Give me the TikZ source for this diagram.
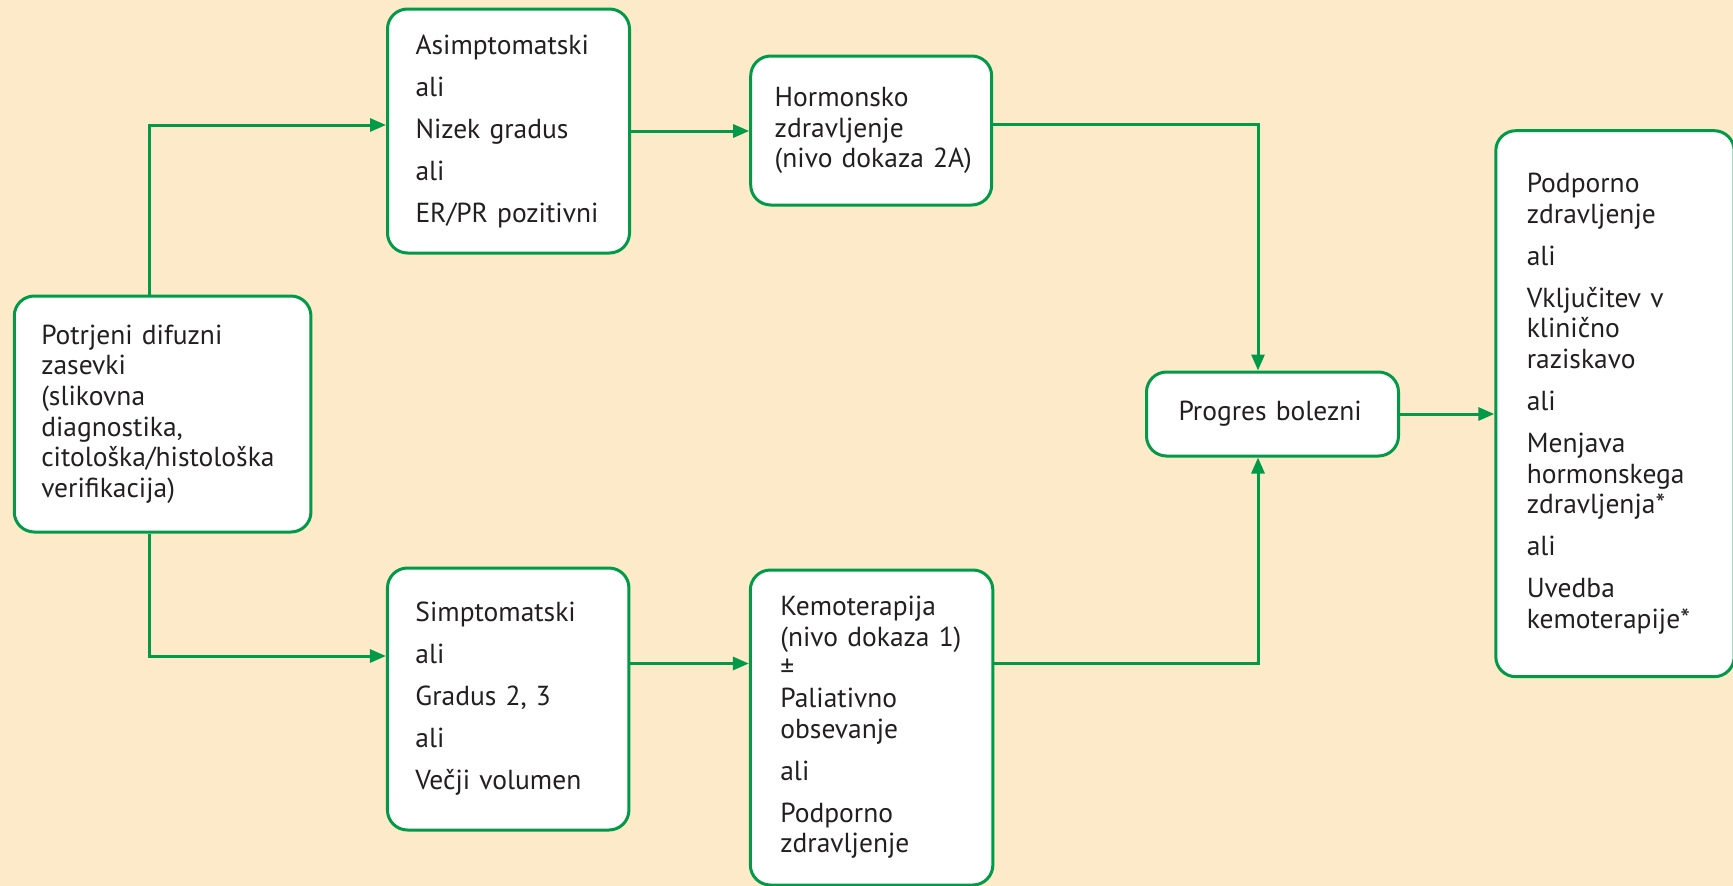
\documentclass[tikz,border=0pt]{standalone}
\usepackage{fontspec}
\setmainfont{PT Sans}
\usetikzlibrary{arrows.meta,calc}
\definecolor{bg}{HTML}{FDEAC8}
\definecolor{gr}{HTML}{009A49}
\definecolor{tx}{HTML}{231F20}
\begin{document}
\begin{tikzpicture}[x=1pt,y=-1pt,
  box/.style={draw=gr, line width=3pt, fill=white, rounded corners=20pt,
    align=left, inner ysep=0pt, text=tx, font=\fontsize{27.5}{30.6}\selectfont},
  arr/.style={draw=gr, line width=3pt, -{Triangle[length=16pt,width=13pt]}}]
\clip (0,0) rectangle (1733,886);
\fill[bg] (0,0) rectangle (1733,886);

\node[box, inner xsep=28pt, text width=186pt, minimum height=244pt] (A) at (508.5,131)
  {Asimptomatski\\[11.4pt]ali\\[11.4pt]Nizek gradus\\[11.4pt]ali\\[11.4pt]ER/PR pozitivni};
\node[box, inner xsep=24pt, text width=193pt, minimum height=149pt] (H) at (871.2,130.5)
  {Hormonsko\\zdravljenje\\(nivo~dokaza~2A)};
\node[box, inner xsep=27pt, text width=242.7pt, minimum height=236pt] (P) at (162.6,414)
  {Potrjeni difuzni\\zasevki\\(slikovna\\diagnostika,\\citološka/histološka\\verifikacija)};
\node[box, inner xsep=28pt, text width=185.5pt, minimum height=262pt] (S) at (508.2,699)
  {Simptomatski\\[11.4pt]ali\\[11.4pt]Gradus 2, 3\\[11.4pt]ali\\[11.4pt]Večji volumen};
\node[box, inner xsep=30pt, text width=182.5pt, minimum height=315pt] (K) at (871.6,727.5)
  {Kemoterapija\\(nivo~dokaza~1)\\±\\Paliativno\\obsevanje\\[11.4pt]ali\\[11.4pt]Podporno\\zdravljenje};
\node[box, inner xsep=32pt, text width=188pt, minimum height=84pt] (G) at (1272.5,414)
  {Progres bolezni};
\node[box, inner xsep=31pt, text width=176.4pt, minimum height=546pt] (R) at (1615,403.7)
  {Podporno\\zdravljenje\\[11.4pt]ali\\[11.4pt]Vključitev v\\klinično\\raziskavo\\[11.4pt]ali\\[11.4pt]Menjava\\hormonskega\\zdravljenja*\\[11.4pt]ali\\[11.4pt]Uvedba\\kemoterapije*};

\coordinate (xl) at (149,0);
\coordinate (xr) at (1258,0);
\coordinate (ys) at (0,656);
\coordinate (yk) at (0,663.5);

\draw[arr] (P.north -| xl) |- ([yshift=6pt]A.west);
\draw[arr] (A.east) -- (A.east -| H.west);
\draw[arr] ([yshift=6pt]H.east) -| (xr |- G.north);
\draw[arr] (P.south -| xl) |- (S.west |- ys);
\draw[arr] (S.east |- yk) -- (K.west |- yk);
\draw[arr] (K.east |- yk) -| (xr |- G.south);
\draw[arr] (G.east) -- (G.east -| R.west);
\end{tikzpicture}
\end{document}
